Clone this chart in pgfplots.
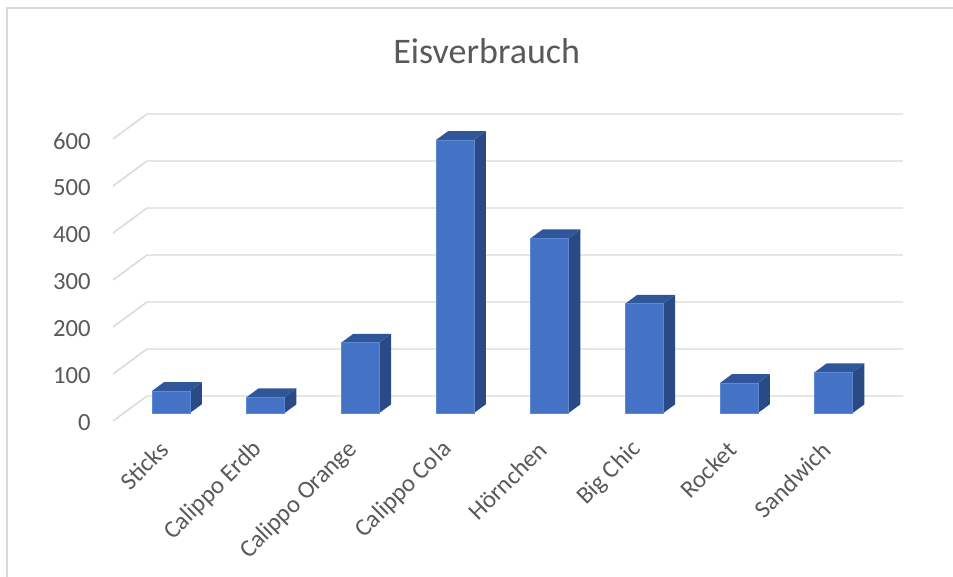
\documentclass[border=0pt]{standalone}
\usepackage{fontspec}
\setmainfont{Carlito}
\usepackage{pgfplots}
\pgfplotsset{compat=1.18}
\definecolor{txt}{HTML}{595959}
\definecolor{grd}{HTML}{D9D9D9}
\definecolor{barfront}{HTML}{4472C4}
\definecolor{bartop}{HTML}{30569A}
\definecolor{barside}{HTML}{2A4A85}
\definecolor{baredge}{HTML}{5E88D2}
\begin{document}
\begin{tikzpicture}
\path[use as bounding box] (-84.75pt,-117pt) rectangle (630pt,315.75pt);
\draw[grd, line width=1.2pt] (-79.5pt,-130pt) -- (-79.5pt,309.75pt) -- (640pt,309.75pt);
\node[anchor=base, text=txt, font=\fontsize{27}{32}\selectfont] at (280.3pt,267.75pt) {Eisverbrauch};
\begin{axis}[
  x=71pt, y=0.3525pt,
  xmin=-0.613, xmax=7.732, ymin=-17, ymax=636.2,
  clip=false,
  axis line style={draw=none},
  major tick length=0pt,
  ytick={-17,83,183,283,383,483,583},
  yticklabels={0,100,200,300,400,500,600},
  xtick={-0.074,0.926,1.926,2.926,3.926,4.926,5.926,6.926},
  xticklabels={Sticks,Calippo Erdb,Calippo Orange,Calippo Cola,Hörnchen,Big Chic,Rocket,Sandwich},
  yticklabel style={inner sep=0pt, xshift=-16.5pt, yshift=-1.5pt, anchor=east, text=txt, font=\fontsize{18.5}{22}\selectfont},
  xticklabel style={inner sep=0pt, yshift=-18.5pt, rotate=45, anchor=east, text=txt, font=\fontsize{18.5}{22}\selectfont},
]
% gridlines: side wall + back wall
\addplot[grd, line width=1.1pt] coordinates {(-0.613,-17) (-0.254,36.2) (7.732,36.2)};
\addplot[grd, line width=1.1pt] coordinates {(-0.613,83) (-0.254,136.2) (7.732,136.2)};
\addplot[grd, line width=1.1pt] coordinates {(-0.613,183) (-0.254,236.2) (7.732,236.2)};
\addplot[grd, line width=1.1pt] coordinates {(-0.613,283) (-0.254,336.2) (7.732,336.2)};
\addplot[grd, line width=1.1pt] coordinates {(-0.613,383) (-0.254,436.2) (7.732,436.2)};
\addplot[grd, line width=1.1pt] coordinates {(-0.613,483) (-0.254,536.2) (7.732,536.2)};
\addplot[grd, line width=1.1pt] coordinates {(-0.613,583) (-0.254,636.2) (7.732,636.2)};
% side faces
\addplot[fill=barside, draw=none] coordinates {(0.2,0) (0.325,18.5) (0.325,65.5) (0.2,47)} -- cycle;
\addplot[fill=barside, draw=none] coordinates {(1.2,0) (1.325,18.5) (1.325,52.5) (1.2,34)} -- cycle;
\addplot[fill=barside, draw=none] coordinates {(2.2,0) (2.325,18.5) (2.325,168.5) (2.2,150)} -- cycle;
\addplot[fill=barside, draw=none] coordinates {(3.2,0) (3.325,18.5) (3.325,599.5) (3.2,581)} -- cycle;
\addplot[fill=barside, draw=none] coordinates {(4.2,0) (4.325,18.5) (4.325,390.5) (4.2,372)} -- cycle;
\addplot[fill=barside, draw=none] coordinates {(5.2,0) (5.325,18.5) (5.325,251.5) (5.2,233)} -- cycle;
\addplot[fill=barside, draw=none] coordinates {(6.2,0) (6.325,18.5) (6.325,82.5) (6.2,64)} -- cycle;
\addplot[fill=barside, draw=none] coordinates {(7.2,0) (7.325,18.5) (7.325,105.5) (7.2,87)} -- cycle;
% top faces
\addplot[fill=bartop, draw=none] coordinates {(-0.2,47) (-0.075,65.5) (0.325,65.5) (0.2,47)} -- cycle;
\addplot[fill=bartop, draw=none] coordinates {(0.8,34) (0.925,52.5) (1.325,52.5) (1.2,34)} -- cycle;
\addplot[fill=bartop, draw=none] coordinates {(1.8,150) (1.925,168.5) (2.325,168.5) (2.2,150)} -- cycle;
\addplot[fill=bartop, draw=none] coordinates {(2.8,581) (2.925,599.5) (3.325,599.5) (3.2,581)} -- cycle;
\addplot[fill=bartop, draw=none] coordinates {(3.8,372) (3.925,390.5) (4.325,390.5) (4.2,372)} -- cycle;
\addplot[fill=bartop, draw=none] coordinates {(4.8,233) (4.925,251.5) (5.325,251.5) (5.2,233)} -- cycle;
\addplot[fill=bartop, draw=none] coordinates {(5.8,64) (5.925,82.5) (6.325,82.5) (6.2,64)} -- cycle;
\addplot[fill=bartop, draw=none] coordinates {(6.8,87) (6.925,105.5) (7.325,105.5) (7.2,87)} -- cycle;
% front faces
\addplot[ybar, bar width=0.4, fill=barfront, draw=baredge, line width=0.5pt] coordinates {
(0,47) (1,34) (2,150) (3,581) (4,372) (5,233) (6,64) (7,87)};
\end{axis}
\end{tikzpicture}
\end{document}
